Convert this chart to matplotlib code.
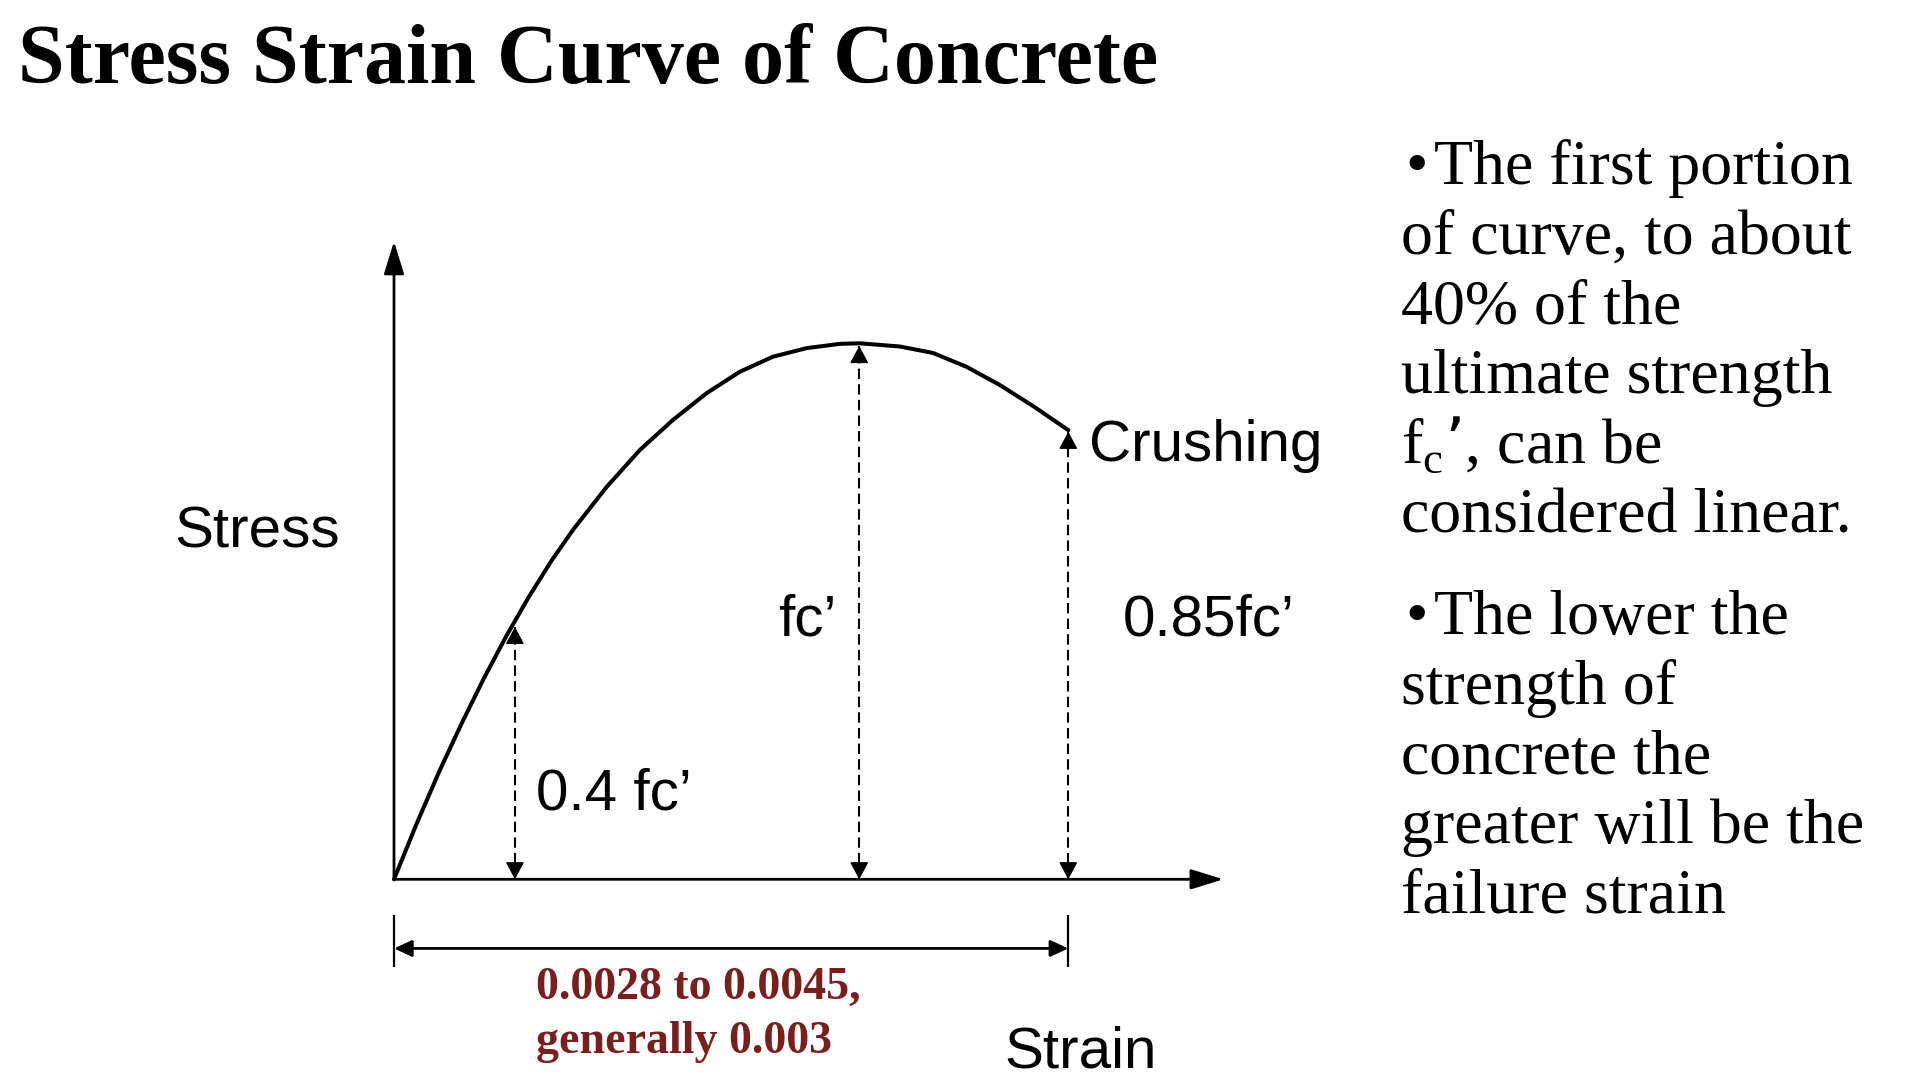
import matplotlib
matplotlib.use("Agg")
import matplotlib.pyplot as plt

W, H, DPI = 1919, 1083, 100

# ---- data (strain, stress / fc') ----
strain = [0.0, 0.0001, 0.0002, 0.0003, 0.0004, 0.0005, 0.0006, 0.0007,
          0.0008, 0.000946, 0.001094, 0.001241, 0.001391, 0.001539,
          0.001686, 0.001836, 0.001984, 0.002073, 0.002251, 0.002398,
          0.002548, 0.002696, 0.002843, 0.003]
stress = [0.0, 0.103, 0.200, 0.290, 0.375, 0.454, 0.527, 0.594, 0.654,
          0.732, 0.801, 0.857, 0.907, 0.947, 0.975, 0.991, 0.999, 1.0,
          0.994, 0.982, 0.956, 0.922, 0.883, 0.838]

marker_strain = [0.000538, 0.00207, 0.003]
marker_top = [0.471, 0.995, 0.835]
marker_labels = ["0.4 fc\u2019", "fc\u2019", "0.85fc\u2019"]

axis_strain_max = 0.00369
axis_stress_max = 1.19
range_strain = [0.0, 0.003]

title = "Stress Strain Curve of Concrete"
range_text = ["0.0028 to 0.0045,", "generally 0.003"]
bullet1 = ["The first portion", "of curve, to about", "40% of the",
           "ultimate strength", "f$_{\\mathregular{c}}$\u2019, can be",
           "considered linear."]
bullet2 = ["The lower the", "strength of", "concrete the",
           "greater will be the", "failure strain"]

# ---- figure ----
fig = plt.figure(figsize=(W / DPI, H / DPI), dpi=DPI)
fig.patch.set_facecolor("white")
ax = fig.add_axes([0, 0, 1, 1])
ax.axis("off")

ox, oy = 394.0, 879.3          # pixel position of origin
kx = 674.3 / 0.003             # px per unit strain
ky = 536.0                     # px per fc'
ax.set_xlim(-ox / kx, (W - ox) / kx)
ax.set_ylim(-(H - oy) / ky, oy / ky)

K = "black"
# axes with arrows
big = "-|>,head_length=1.0,head_width=0.31"
ax.annotate("", xy=(0, axis_stress_max), xytext=(0, 0),
            arrowprops=dict(arrowstyle=big, mutation_scale=20, lw=2.0,
                            color=K, shrinkA=0, shrinkB=0))
ax.annotate("", xy=(axis_strain_max, 0), xytext=(0, 0),
            arrowprops=dict(arrowstyle=big, mutation_scale=20, lw=2.0,
                            color=K, shrinkA=0, shrinkB=0))

# curve
ax.plot(strain, stress, color=K, lw=2.9, solid_capstyle="round",
        solid_joinstyle="round")

# dashed double arrows
small = "-|>,head_length=0.54,head_width=0.29"
ax.vlines(marker_strain, 0, marker_top, colors=K, lw=1.5,
          linestyles=[(0, (5, 2.5))])
for s, t in zip(marker_strain, marker_top):
    for tip, base in ((t, t - 0.03), (0.0, 0.03)):
        ax.annotate("", xy=(s, tip), xytext=(s, base),
                    arrowprops=dict(arrowstyle=small, mutation_scale=20,
                                    lw=1.0, color=K, shrinkA=0, shrinkB=0))

# dimension line
dim_y = -0.129
ax.annotate("", xy=(range_strain[1], dim_y), xytext=(range_strain[0], dim_y),
            arrowprops=dict(arrowstyle="<|-|>,head_length=0.54,head_width=0.25",
                            mutation_scale=20, lw=2.0, color=K,
                            shrinkA=0, shrinkB=0))
ax.vlines(range_strain, -0.1636, -0.0666, colors=K, lw=1.6)


def txt(x, y, s, **kw):
    fig.text(x / W, 1 - y / H, s, va="baseline", ha="left", **kw)


SANS = ["Liberation Sans", "DejaVu Sans"]
SERIF = ["Liberation Serif", "DejaVu Serif"]

txt(18, 83, title, fontsize=60.5, fontweight="bold", family=SERIF, color=K)

txt(174, 547, "Stress", fontsize=42, family=SANS, color=K)
txt(1004, 1068, "Strain", fontsize=42, family=SANS, color=K)
txt(1089, 461, "Crushing", fontsize=42, family=SANS, color=K)
label_pos = [(536, 809), (778, 636), (1123, 636)]
for (x, y), lab in zip(label_pos, marker_labels):
    txt(x, y, lab, fontsize=42, family=SANS, color=K)

dark_red = "#7a1d1d"
txt(536, 999, range_text[0], fontsize=33, fontweight="bold", family=SERIF,
    color=dark_red)
txt(536, 1053, range_text[1], fontsize=33, fontweight="bold", family=SERIF,
    color=dark_red)

step = 69.7
txt(1405, 184, "\u2022", fontsize=46, family=SERIF, color=K)
for i, line in enumerate(bullet1):
    x = 1434 if i == 0 else 1401
    txt(x, 184 + i * step, line, fontsize=46, family=SERIF, color=K)
txt(1405, 634, "\u2022", fontsize=46, family=SERIF, color=K)
for i, line in enumerate(bullet2):
    x = 1434 if i == 0 else 1401
    txt(x, 634 + i * step, line, fontsize=46, family=SERIF, color=K)

fig.savefig("out.png", dpi=DPI, facecolor="white")
